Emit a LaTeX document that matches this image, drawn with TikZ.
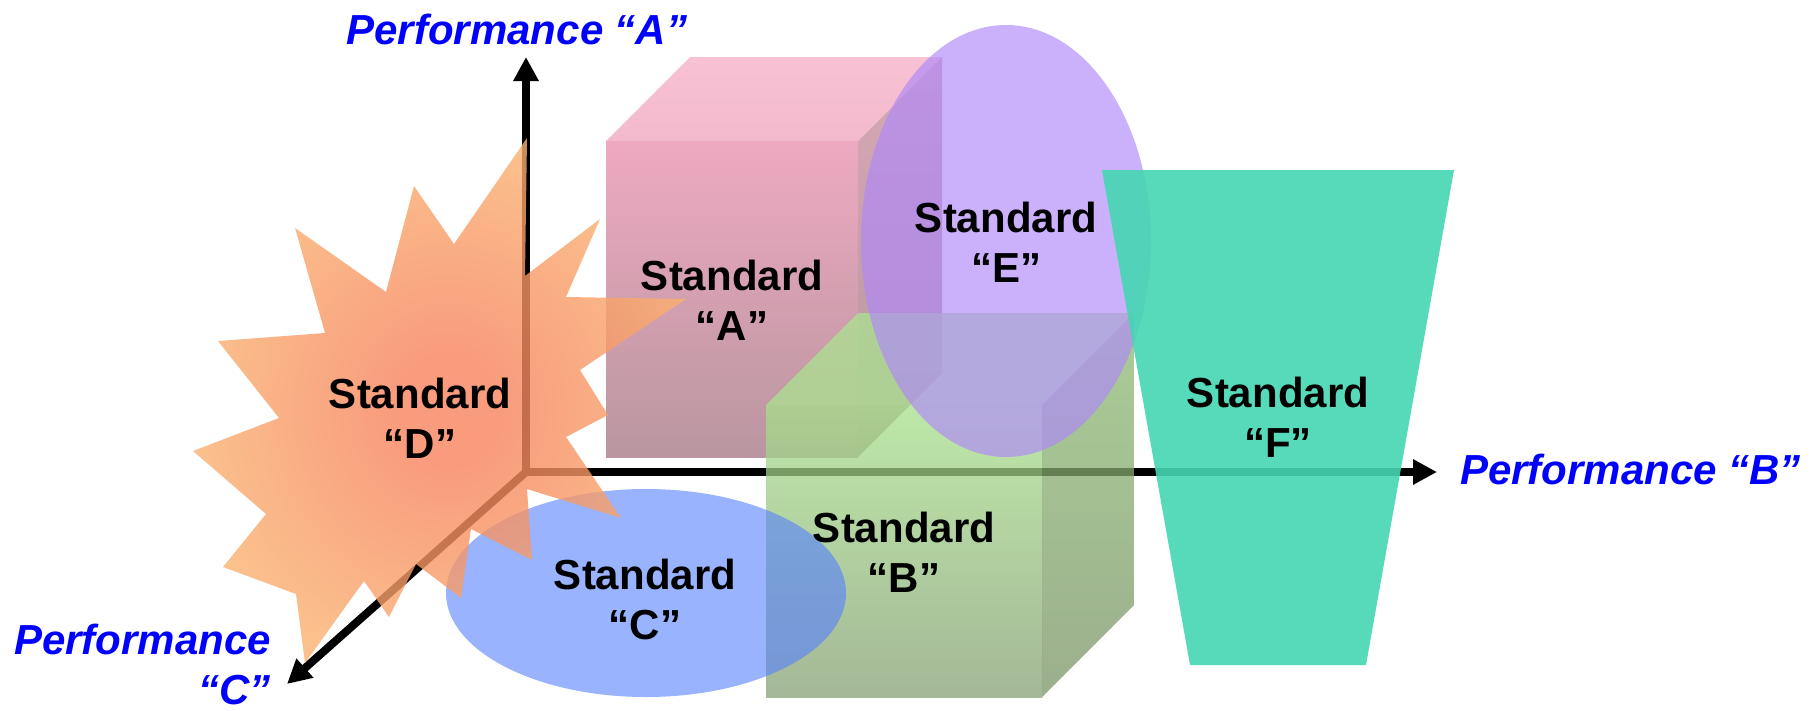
\documentclass[tikz,border=0pt]{standalone}
\usepackage{fontspec}
\setmainfont{Liberation Sans}
\usetikzlibrary{arrows.meta}
\definecolor{perfblue}{HTML}{0000FF}
\definecolor{pinkTop}{HTML}{F9C1D4}
\definecolor{pinkTopB}{HTML}{F2BACC}
\definecolor{pinkFrontT}{HTML}{EEA9C0}
\definecolor{pinkFrontB}{HTML}{B996A0}
\definecolor{pinkSideT}{HTML}{DAA8B6}
\definecolor{pinkSideB}{HTML}{B2969E}
\definecolor{grFrontT}{HTML}{A7E08B}
\definecolor{grFrontB}{HTML}{86A074}
\definecolor{grTop}{HTML}{ABE390}
\definecolor{grSideT}{HTML}{8EBC73}
\definecolor{grSideB}{HTML}{7A9466}
\definecolor{lavE}{HTML}{AF87FB}
\definecolor{skyC}{HTML}{5580FF}
\definecolor{tealF}{HTML}{45D6B2}
\definecolor{starC}{HTML}{F7825C}
\definecolor{starO}{HTML}{FAB170}
\pgfdeclareradialshading{starburst}{\pgfpoint{1bp}{-1bp}}{color(0bp)=(starC); color(5bp)=(starC); color(26bp)=(starO); color(80bp)=(starO)}
\begin{document}
\begin{tikzpicture}[x=1pt,y=-1pt,
  axisline/.style={line width=8pt, line cap=rect, -{Triangle[length=24pt,width=24pt]}},
  stdlabel/.style={font=\fontsize{42}{50}\selectfont\bfseries, align=center, inner sep=0pt, text=black},
  perflabel/.style={font=\fontsize{42}{50}\selectfont\bfseries\itshape, text=perfblue, inner sep=0pt},
  glass/.style={fill opacity=0.75}]
\useasboundingbox (0,0) rectangle (1813,710);
% axes
\coordinate (O) at (526,472);
\coordinate (Aend) at (526,57);
\coordinate (Bend) at (1437,472);
\coordinate (Cend) at (287,684);
\draw[axisline] (O) -- (Aend);
\draw[axisline] (O) -- (Bend);
\draw[axisline] (O) -- (Cend);
% Standard A cube (pink)
\shade[top color=pinkTop, bottom color=pinkTopB] (606,141) -- (690,57) -- (942,57) -- (858,141) -- cycle;
\shade[top color=pinkFrontT, bottom color=pinkFrontB] (606,141) rectangle (858,457);
\shade[top color=pinkSideT, bottom color=pinkSideB] (858,141) -- (942,57) -- (942,373) -- (858,457) -- cycle;
% Standard B cube (green)
\fill[grTop, glass] (766,405) -- (858,313) -- (1134,313) -- (1042,405) -- cycle;
\shade[top color=grFrontT, bottom color=grFrontB, glass] (766,405) rectangle (1042,697);
\shade[top color=grSideT, bottom color=grSideB, glass] (1042,405) -- (1134,313) -- (1134,605) -- (1042,697) -- cycle;
% Standard E ellipse
\fill[lavE, fill opacity=0.65] (1006,241) ellipse [x radius=145pt, y radius=216pt];
% Standard C ellipse
\fill[skyC, fill opacity=0.6] (646,593) ellipse [x radius=200pt, y radius=104pt];
% Standard F trapezoid
\fill[tealF, fill opacity=0.9] (1102,170) -- (1454,170) -- (1366,665) -- (1190,665) -- cycle;
% Standard D star
\shade[shading=starburst, fill opacity=0.8]
  (527,138) -- (525,276) -- (600,219) -- (566,297) -- (686,299) -- (580,370) --
  (608,415) -- (566,437) -- (621,518) -- (527,489) -- (532,560) -- (471,529) --
  (461,598) -- (416,564) -- (389,617) -- (364,581) -- (305,663) -- (296,594) --
  (223,567) -- (266,514) -- (193,451) -- (279,418) -- (218,341) -- (325,333) --
  (295,228) -- (386,292) -- (414,186) -- (454,244) -- cycle;
% labels
\node[stdlabel] (stdA) at (732,300) {Standard\\“A”};
\node[stdlabel] (stdE) at (1006,242) {Standard\\“E”};
\node[stdlabel] (stdB) at (904,552) {Standard\\“B”};
\node[stdlabel] (stdC) at (645,599) {Standard\\“C”};
\node[stdlabel] (stdD) at (420,418) {Standard\\“D”};
\node[stdlabel] (stdF) at (1278,417) {Standard\\“F”};
\node[perflabel, anchor=base] (perfA) at (517,44) {Performance “A”};
\node[perflabel, anchor=base west] (perfB) at (1460,484) {Performance “B”};
\node[perflabel, align=right, anchor=east] (perfC) at (271,664) {Performance\\“C”};
\end{tikzpicture}
\end{document}
